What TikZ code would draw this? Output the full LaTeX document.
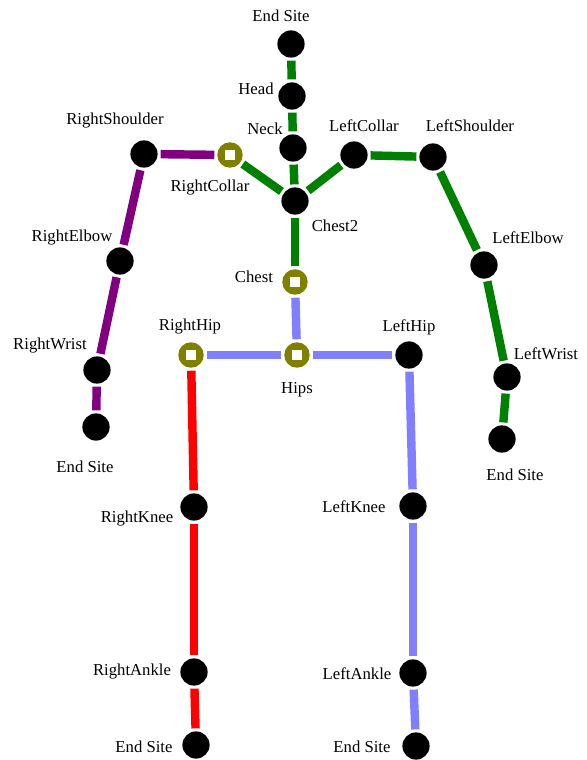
\documentclass[tikz,border=0pt]{standalone}
\usepackage{fontspec}
\setmainfont{Liberation Serif}
\definecolor{spine}{RGB}{0,128,0}
\definecolor{rarm}{RGB}{128,0,128}
\definecolor{rleg}{RGB}{255,0,0}
\definecolor{lleg}{RGB}{128,128,255}
\definecolor{ringc}{RGB}{128,128,0}
\tikzset{
  joint/.style={circle, fill=black, inner sep=0pt, minimum size=15.5pt},
  ring/.style={circle, fill=ringc, inner sep=0pt, minimum size=14.5pt,
    path picture={\fill[white] ([shift={(-3.1pt,-3.1pt)}]path picture bounding box.center) rectangle ++(6.2pt,6.2pt);}},
  bone/.style={line width=4.8pt, shorten <=1.5pt, shorten >=1.5pt},
  lbl/.style={font=\fontsize{9.5}{11}\selectfont, inner sep=0pt}
}
\begin{document}
\begin{tikzpicture}[x=0.02cm, y=-0.02cm]
\useasboundingbox (0,0) rectangle (586,760);
{\centering
% joints
\node[joint] (headend) at (291, 44)  {};
\node[joint] (head)    at (292, 96)  {};
\node[joint] (neck)    at (293, 148) {};
\node[joint] (chest2)  at (295, 201) {};
\node[ring]  (chest)   at (295, 282) {};
\node[ring]  (hips)    at (297, 355) {};
\node[ring]  (rhip)    at (191, 355) {};
\node[joint] (lhip)    at (409, 355) {};
\node[ring]  (rcollar) at (230, 155) {};
\node[joint] (rshoulder) at (144, 154) {};
\node[joint] (relbow)  at (120, 261) {};
\node[joint] (rwrist)  at (97, 370)  {};
\node[joint] (rhandend) at (96, 427) {};
\node[joint] (lcollar) at (354, 155) {};
\node[joint] (lshoulder) at (433, 157) {};
\node[joint] (lelbow)  at (484, 265) {};
\node[joint] (lwrist)  at (507, 377) {};
\node[joint] (lhandend) at (502, 439) {};
\node[joint] (rknee)   at (194, 507) {};
\node[joint] (rankle)  at (194, 672) {};
\node[joint] (rfootend) at (196, 745) {};
\node[joint] (lknee)   at (413, 506) {};
\node[joint] (lankle)  at (413, 673) {};
\node[joint] (lfootend) at (416, 746) {};

% labels
\node[lbl] (t-headend)   at (281, 16)  {End Site};
\node[lbl] (t-head)      at (256, 89)  {Head};
\node[lbl] (t-neck)      at (265, 129) {Neck};
\node[lbl] (t-lcollar)   at (364, 126) {LeftCollar};
\node[lbl] (t-lshoulder) at (470, 126) {LeftShoulder};
\node[lbl] (t-rshoulder) at (115, 121) {RightShoulder};
\node[lbl] (t-rcollar)   at (210, 188) {RightCollar};
\node[lbl] (t-chest2)    at (335, 226) {Chest2};
\node[lbl] (t-chest)     at (254, 277) {Chest};
\node[lbl] (t-rhip)      at (190, 327) {RightHip};
\node[lbl] (t-lhip)      at (409, 327) {LeftHip};
\node[lbl] (t-hips)      at (297, 390) {Hips};
\node[lbl] (t-relbow)    at (72, 238)  {RightElbow};
\node[lbl] (t-rwrist)    at (50, 346)  {RightWrist};
\node[lbl] (t-rhandend)  at (85, 467)  {End Site};
\node[lbl] (t-lelbow)    at (528, 238) {LeftElbow};
\node[lbl] (t-lwrist)    at (546, 354) {LeftWrist};
\node[lbl] (t-lhandend)  at (515, 475) {End Site};
\node[lbl] (t-rknee)     at (137, 519) {RightKnee};
\node[lbl] (t-lknee)     at (354, 507) {LeftKnee};
\node[lbl] (t-rankle)    at (132, 672) {RightAnkle};
\node[lbl] (t-lankle)    at (357, 674) {LeftAnkle};
\node[lbl] (t-rfootend)  at (144, 747) {End Site};
\node[lbl] (t-lfootend)  at (362, 747) {End Site};

% bones
\path[bone, draw=spine] (head) -- (headend);
\path[bone, draw=spine] (neck) -- (head);
\path[bone, draw=spine] (chest2) -- (neck);
\path[bone, draw=spine] (chest) -- (chest2);
\path[bone, draw=spine] (chest2) -- (rcollar);
\path[bone, draw=spine] (chest2) -- (lcollar);
\path[bone, draw=spine] (lcollar) -- (lshoulder);
\path[bone, draw=spine] (lshoulder) -- (lelbow);
\path[bone, draw=spine] (lelbow) -- (lwrist);
\path[bone, draw=spine] (lwrist) -- (lhandend);
\path[bone, draw=rarm] (rcollar) -- (rshoulder);
\path[bone, draw=rarm] (rshoulder) -- (relbow);
\path[bone, draw=rarm] (relbow) -- (rwrist);
\path[bone, draw=rarm] (rwrist) -- (rhandend);
\path[bone, draw=lleg] (hips) -- (chest);
\path[bone, draw=lleg] (hips) -- (rhip);
\path[bone, draw=lleg] (hips) -- (lhip);
\path[bone, draw=lleg] (lhip) -- (lknee);
\path[bone, draw=lleg] (lknee) -- (lankle);
\path[bone, draw=lleg] (lankle) -- (lfootend);
\path[bone, draw=rleg] (rhip) -- (rknee);
\path[bone, draw=rleg] (rknee) -- (rankle);
\path[bone, draw=rleg] (rankle) -- (rfootend);
}
\end{tikzpicture}
\end{document}
